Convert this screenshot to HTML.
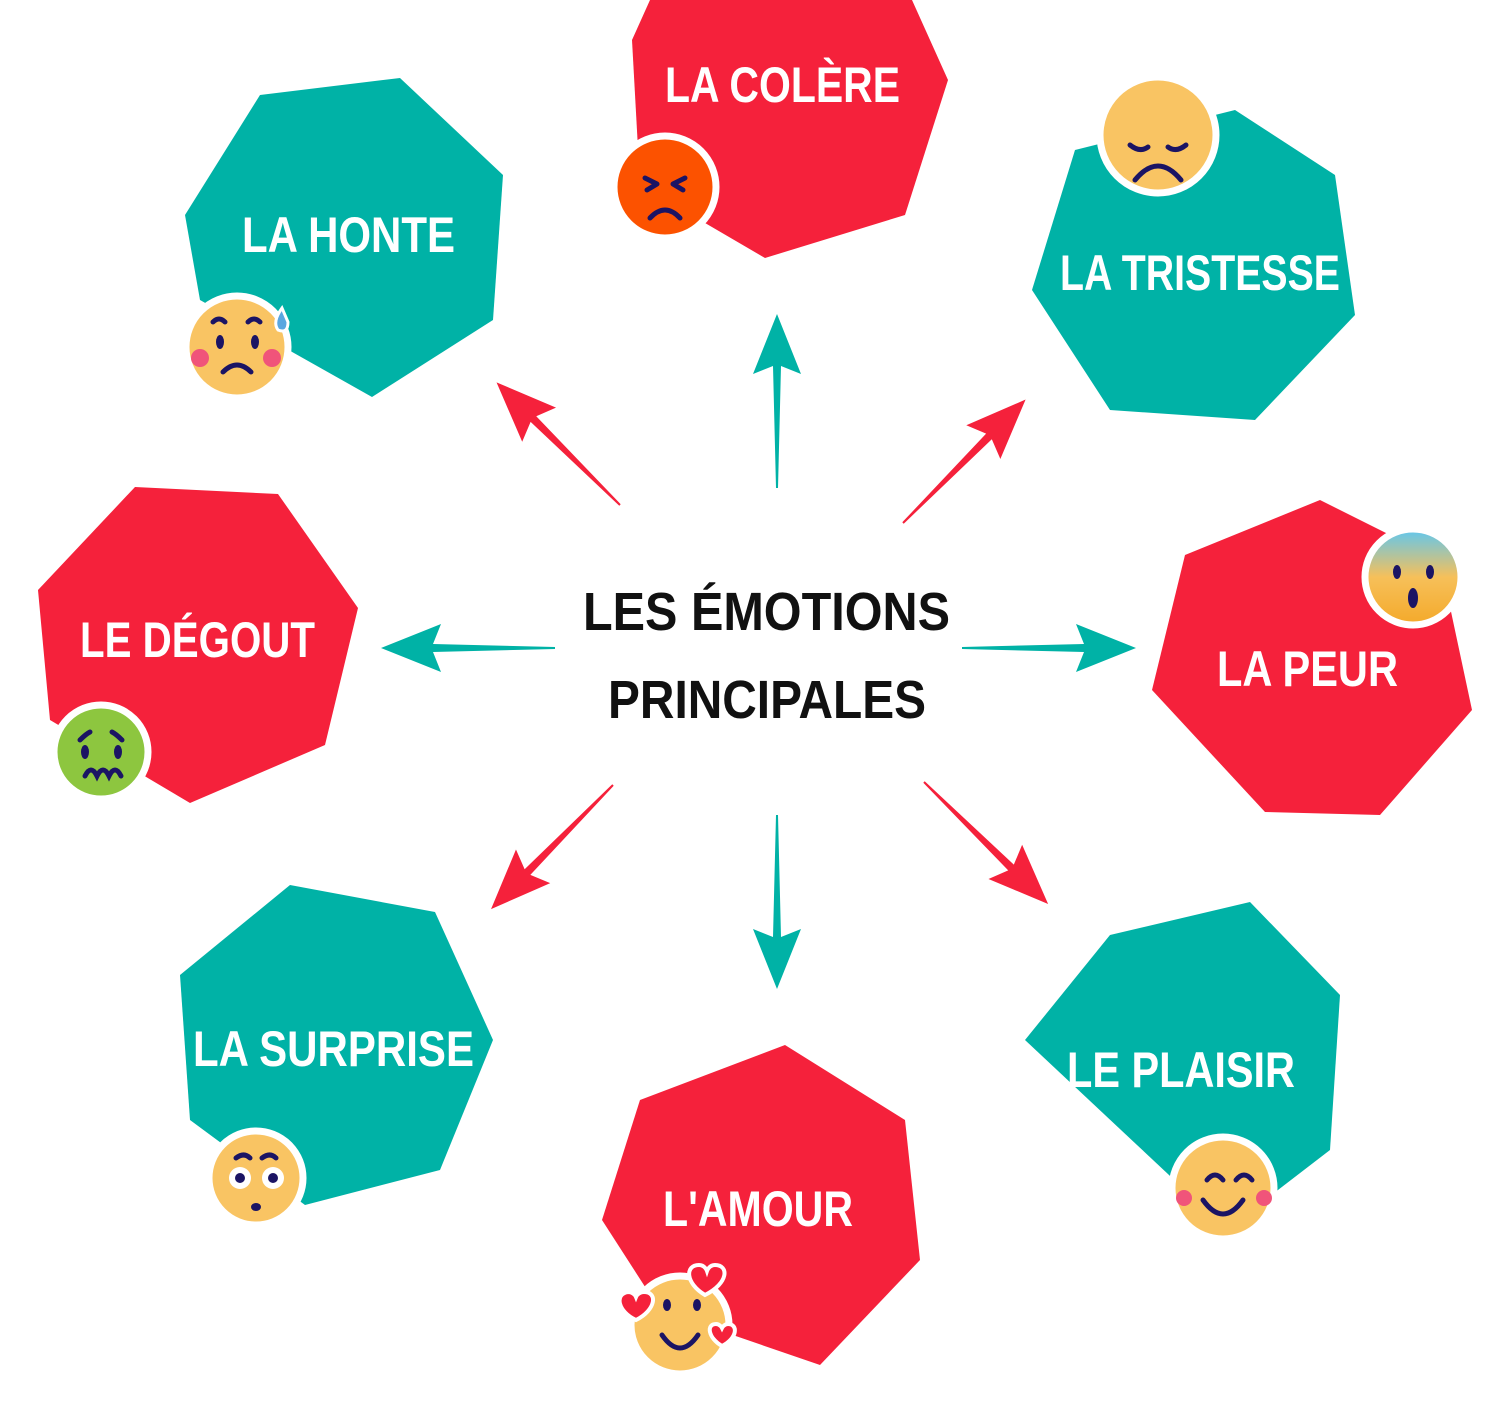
<!DOCTYPE html>
<html><head><meta charset="utf-8"><style>body{margin:0;background:#fff}svg{display:block}</style></head><body>
<svg width="1496" height="1413" viewBox="0 0 1496 1413" xmlns="http://www.w3.org/2000/svg">
<defs>
<linearGradient id="fear" x1="0" y1="0" x2="0" y2="1"><stop offset="0" stop-color="#5fc7f0"/><stop offset="0.5" stop-color="#f6c05a"/><stop offset="1" stop-color="#f4a92a"/></linearGradient>
<path id="arr" d="M0,-1 L122,-4 L114,-24 L174,0 L114,24 L122,4 L0,1 Z"/>
</defs>
<g fill="#f5213b">
<polygon points="632,40 650,0 912,0 948,80 905,215 765,258 640,185"/>
<polygon points="38,590 135,487 278,494 358,608 325,745 190,803 50,720"/>
<polygon points="1185,555 1320,500 1440,560 1472,710 1380,815 1265,812 1152,690"/>
<polygon points="640,1100 785,1045 905,1120 920,1260 820,1365 660,1310 602,1220"/>
</g>
<g fill="#00b2a6">
<polygon points="260,95 400,78 503,175 493,320 372,397 200,300 185,215"/>
<polygon points="1075,150 1235,110 1335,175 1355,315 1255,420 1110,410 1032,290"/>
<polygon points="290,885 435,912 493,1040 440,1170 305,1205 190,1120 180,975"/>
<polygon points="1110,935 1250,902 1340,995 1330,1150 1265,1200 1185,1190 1025,1040"/>
</g>
<g font-family="Liberation Sans, sans-serif" font-weight="bold" fill="#fff" font-size="50">
<text x="665" y="102" textLength="235" lengthAdjust="spacingAndGlyphs">LA COLÈRE</text>
<text x="242" y="252" textLength="213" lengthAdjust="spacingAndGlyphs">LA HONTE</text>
<text x="1060" y="290" textLength="280" lengthAdjust="spacingAndGlyphs">LA TRISTESSE</text>
<text x="80" y="657" textLength="235" lengthAdjust="spacingAndGlyphs">LE DÉGOUT</text>
<text x="1217" y="686" textLength="181" lengthAdjust="spacingAndGlyphs">LA PEUR</text>
<text x="193" y="1066" textLength="281" lengthAdjust="spacingAndGlyphs">LA SURPRISE</text>
<text x="1067" y="1087" textLength="228" lengthAdjust="spacingAndGlyphs">LE PLAISIR</text>
<text x="663" y="1226" textLength="190" lengthAdjust="spacingAndGlyphs">L'AMOUR</text>
</g>
<g font-family="Liberation Sans, sans-serif" font-weight="bold" fill="#111" font-size="54">
<text x="583" y="630" textLength="367" lengthAdjust="spacingAndGlyphs">LES ÉMOTIONS</text>
<text x="608" y="718" textLength="318" lengthAdjust="spacingAndGlyphs">PRINCIPALES</text>
</g>
<g fill="#00b2a6">
<use href="#arr" transform="translate(777,488) rotate(-90)"/>
<use href="#arr" transform="translate(777,815) rotate(90)"/>
<use href="#arr" transform="translate(555,648) rotate(180)"/>
<use href="#arr" transform="translate(962,648) rotate(0)"/>
</g>
<g fill="#f5213b">
<use href="#arr" transform="translate(620,505) rotate(-135.2)"/>
<use href="#arr" transform="translate(903,523) rotate(-45.2)"/>
<use href="#arr" transform="translate(613,785) rotate(134.5)"/>
<use href="#arr" transform="translate(924,782) rotate(44.5)"/>
</g>
<g stroke="#fff" stroke-width="7">
<circle cx="665" cy="187" r="51" fill="#fc5200"/>
<circle cx="237" cy="347" r="51" fill="#f9c463"/>
<circle cx="1158" cy="135" r="58" fill="#f9c463"/>
<circle cx="1413" cy="577" r="48" fill="url(#fear)"/>
<circle cx="101" cy="752" r="47" fill="#8dc63f"/>
<circle cx="256" cy="1178" r="47" fill="#f9c463"/>
<circle cx="1223" cy="1188" r="51" fill="#f9c463"/>
<circle cx="680" cy="1325" r="49" fill="#f9c463"/>
</g>
<g fill="none" stroke="#1b1464" stroke-width="5" stroke-linecap="round">
<path d="M645,178 l12,6 M685,178 l-12,6 M647,190 l10,-6 M683,190 l-10,-6"/>
<path d="M650,218 q15,-16 30,0"/>
<path d="M1130,145 q10,8 18,2 M1186,145 q-10,8 -18,2"/>
<path d="M1135,180 q23,-28 46,0"/>
<path d="M223,372 q14,-14 28,0"/>
<path d="M213,322 q6,-6 12,0 M248,322 q6,-6 12,0"/>
<path d="M1207,1180 q8,-10 16,0 M1236,1180 q8,-10 16,0"/>
<path d="M1203,1200 q20,28 40,0"/>
<path d="M662,1335 q18,26 36,0"/>
<path d="M85,776 q6,-12 12,0 q6,-12 12,0 q6,-12 12,0"/>
<path d="M80,740 q6,-6 10,-8 M122,740 q-6,-6 -10,-8"/>
<path d="M236,1158 q8,-6 14,0 M262,1158 q8,-6 14,0"/>
</g>
<g fill="#1b1464">
<ellipse cx="220" cy="342" rx="4" ry="7"/><ellipse cx="255" cy="342" rx="4" ry="7"/>
<ellipse cx="1397" cy="572" rx="4" ry="7"/><ellipse cx="1430" cy="572" rx="4" ry="7"/><ellipse cx="1413" cy="598" rx="5" ry="10"/>
<ellipse cx="85" cy="752" rx="4" ry="7"/><ellipse cx="118" cy="752" rx="4" ry="7"/>
<ellipse cx="256" cy="1207" rx="5" ry="4"/>
<ellipse cx="667" cy="1305" rx="4" ry="6"/><ellipse cx="697" cy="1305" rx="4" ry="6"/>
</g>
<g fill="#fff"><circle cx="240" cy="1178" r="11"/><circle cx="273" cy="1178" r="11"/></g>
<g fill="#1b1464"><circle cx="240" cy="1178" r="5"/><circle cx="273" cy="1178" r="5"/></g>
<g fill="#f0547a"><circle cx="200" cy="358" r="9"/><circle cx="272" cy="358" r="9"/><circle cx="1184" cy="1198" r="8"/><circle cx="1264" cy="1198" r="8"/></g>
<path d="M282,308 q-10,14 -4,22 q10,4 10,-8 z" fill="#5aa7e0" stroke="#fff" stroke-width="3"/>
<g fill="#f5213b" stroke="#fff" stroke-width="4">
<path d="M705,1295 c-20,-12 -20,-30 -6,-30 c6,0 8,6 8,6 c0,0 2,-6 8,-6 c14,0 14,18 -10,30z"/>
<path d="M636,1320 c-18,-8 -22,-26 -8,-28 c6,0 8,5 8,5 c0,0 2,-5 8,-5 c14,0 12,18 -8,28z"/>
<path d="M722,1346 c-14,-8 -16,-22 -6,-22 c4,0 6,4 6,4 c0,0 2,-4 6,-4 c10,0 10,14 -6,22z"/>
</g>
</svg>
</body></html>
